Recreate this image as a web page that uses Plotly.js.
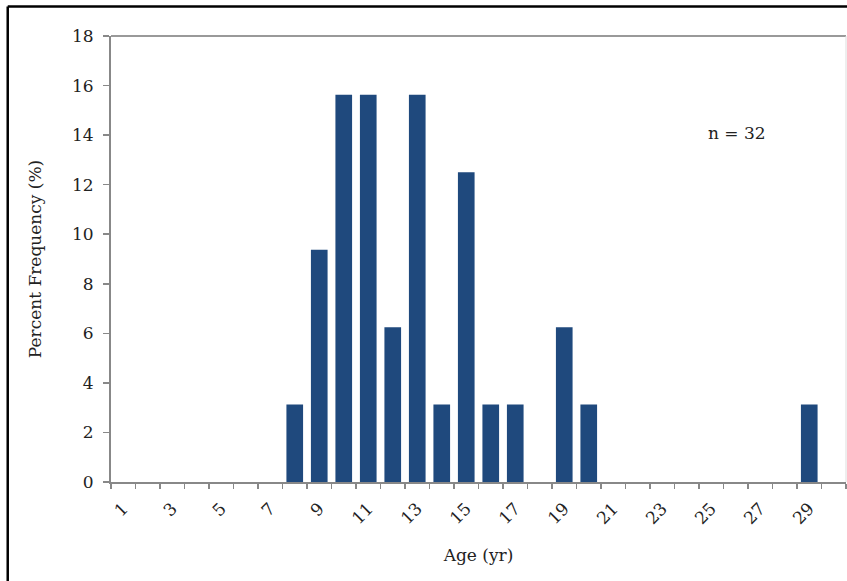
<!DOCTYPE html>
<html>
<head>
<meta charset="utf-8">
<script src="https://cdn.plot.ly/plotly-3.0.1.min.js"></script>
<style>html,body{margin:0;padding:0;background:#fff;}#chart{width:847px;height:581px;}</style>
</head>
<body>
<div id="chart"></div>
<script>
const ages = [1,2,3,4,5,6,7,8,9,10,11,12,13,14,15,16,17,18,19,20,21,22,23,24,25,26,27,28,29,30];
const percentFrequency = [0,0,0,0,0,0,0,3.125,9.375,15.625,15.625,6.25,15.625,3.125,12.5,3.125,3.125,0,6.25,3.125,0,0,0,0,0,0,0,0,3.125,0];
const xTickVals = [1,3,5,7,9,11,13,15,17,19,21,23,25,27,29];
const xTickText = ["1","3","5","7","9","11","13","15","17","19","21","23","25","27","29"];
const yTickVals = [0,2,4,6,8,10,12,14,16,18];
const annotationText = "n = 32";

const serif = "DejaVu Serif, Liberation Serif, serif";
const trace = {
  type: 'bar',
  x: ages,
  y: percentFrequency,
  marker: {color: '#1f497d', line: {color: '#c8c8c8', width: 0}},
  hoverinfo: 'x+y'
};
const layout = {
  width: 847, height: 581,
  margin: {l: 111, r: 1, t: 36, b: 99},
  paper_bgcolor: '#ffffff', plot_bgcolor: '#ffffff',
  showlegend: false,
  bargap: 0.32,
  font: {family: serif, color: '#222', size: 17},
  xaxis: {
    range: [0.5, 30.5],
    tickvals: xTickVals, ticktext: xTickText,
    tickangle: -45,
    ticks: '', ticklen: 0,
    ticklabelstandoff: 8,
    minor: {tick0: 0.5, dtick: 1, ticks: 'outside', ticklen: 5, tickcolor: '#888', tickwidth: 1.5},
    showgrid: false, zeroline: false,
    showline: true, linecolor: '#888', linewidth: 2, mirror: false,
    tickfont: {family: serif, size: 17, color: '#222'},
    title: {text: 'Age (yr)', font: {family: serif, size: 17, color: '#222'}, standoff: 22}
  },
  yaxis: {
    range: [0, 18],
    tickvals: yTickVals,
    ticks: 'outside', ticklen: 6, tickcolor: '#888', tickwidth: 1.5,
    ticklabelstandoff: 6,
    showgrid: false, zeroline: false,
    showline: true, linecolor: '#888', linewidth: 2,
    tickfont: {family: serif, size: 17, color: '#222'},
    title: {text: 'Percent Frequency (%)', font: {family: serif, size: 17, color: '#222'}, standoff: 26}
  },
  shapes: [
    {type: 'line', xref: 'paper', yref: 'paper', x0: 0, x1: 1, y0: 1, y1: 1, line: {color: '#999', width: 2}},
    {type: 'line', xref: 'paper', yref: 'paper', x0: 1, x1: 1, y0: 0, y1: 1, line: {color: '#ddd', width: 1}},
    {type: 'line', xref: 'paper', yref: 'paper', x0: -0.1405, x1: -0.1405, y0: -0.25, y1: 1.066, line: {color: '#000', width: 2.5}},
    {type: 'line', xref: 'paper', yref: 'paper', x0: -0.1405, x1: 1.01, y0: 1.066, y1: 1.066, line: {color: '#000', width: 2.5}}
  ],
  annotations: [
    {text: annotationText, xref: 'paper', yref: 'paper', x: 0.852, y: 0.782, xanchor: 'center', yanchor: 'middle', showarrow: false,
     font: {family: serif, size: 17, color: '#222'}}
  ]
};
Plotly.newPlot('chart', [trace], layout, {displayModeBar: false, staticPlot: true});
</script>
</body>
</html>
